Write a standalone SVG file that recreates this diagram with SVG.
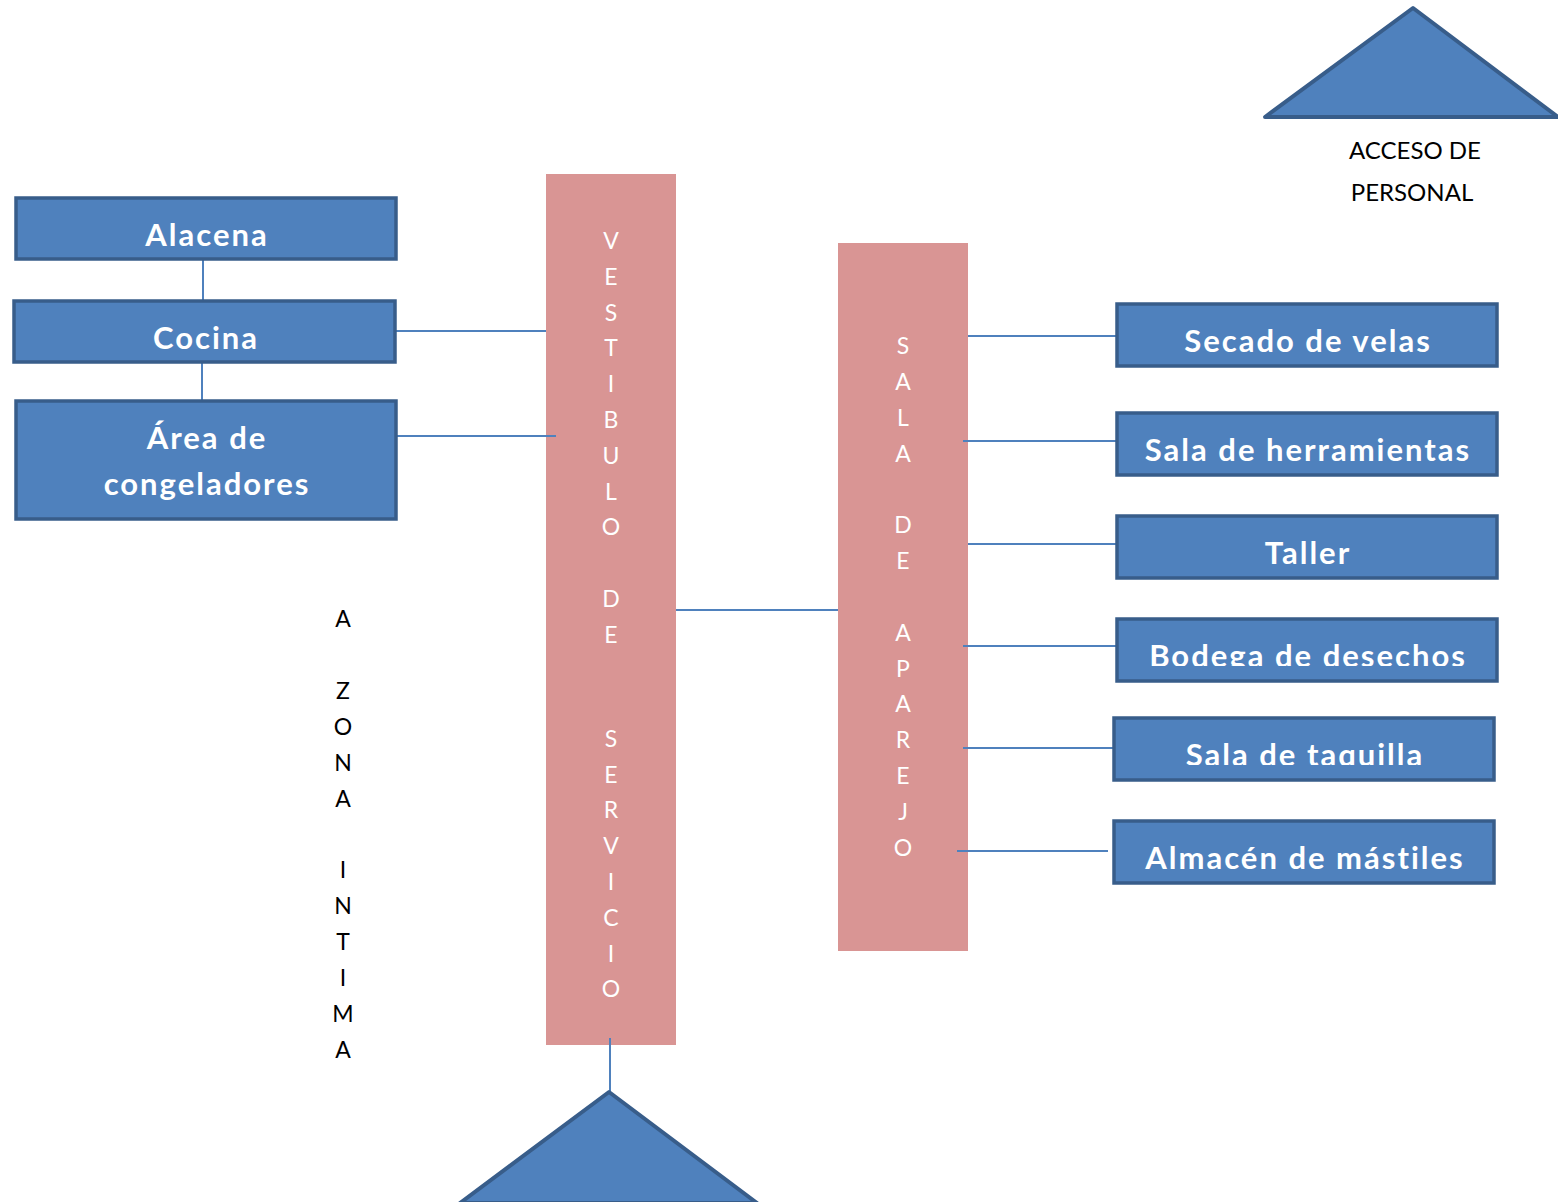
<svg xmlns="http://www.w3.org/2000/svg" width="1558" height="1202" viewBox="0 0 1558 1202">
<style>
.box{fill:#4F81BD;stroke:#385D8A;stroke-width:3.5}
.bt{font-family:Lato,"Open Sans",sans-serif;font-weight:bold;font-size:31px;letter-spacing:2px;fill:#fff;text-anchor:middle}
.pink{fill:#D99594}
.vt{font-family:Lato,"Open Sans",sans-serif;font-size:23px;fill:#fff;text-anchor:middle}
.zt{font-family:Lato,"Open Sans",sans-serif;font-size:23px;fill:#000;text-anchor:middle}
.lt{font-family:Lato,"Open Sans",sans-serif;font-size:24px;fill:#000;text-anchor:middle}
.con line{stroke:#4F81BD;stroke-width:2}
.tri{fill:#4F81BD;stroke:#385D8A;stroke-width:4;stroke-linejoin:round}
</style>
<defs>
<clipPath id="cBod"><rect x="1117" y="619" width="380" height="47"/></clipPath>
<clipPath id="cTaq"><rect x="1114" y="718" width="380" height="47"/></clipPath>
</defs>
<rect width="1558" height="1202" fill="#fff"/>
<g id="vestibulo">
<rect class="pink" x="546" y="174" width="130" height="871"/>
<text class="vt" x="611" y="249"><tspan x="611">V</tspan><tspan x="611" dy="35.8">E</tspan><tspan x="611" dy="35.8">S</tspan><tspan x="611" dy="35.8">T</tspan><tspan x="611" dy="35.8">I</tspan><tspan x="611" dy="35.8">B</tspan><tspan x="611" dy="35.8">U</tspan><tspan x="611" dy="35.8">L</tspan><tspan x="611" dy="35.8">O</tspan><tspan x="611" dy="71.6">D</tspan><tspan x="611" dy="35.8">E</tspan><tspan x="611" dy="104">S</tspan><tspan x="611" dy="35.8">E</tspan><tspan x="611" dy="35.8">R</tspan><tspan x="611" dy="35.8">V</tspan><tspan x="611" dy="35.8">I</tspan><tspan x="611" dy="35.8">C</tspan><tspan x="611" dy="35.8">I</tspan><tspan x="611" dy="35.8">O</tspan></text>
</g>
<g id="sala-aparejo">
<rect class="pink" x="838" y="243" width="130" height="708"/>
<text class="vt" x="903" y="354"><tspan x="903">S</tspan><tspan x="903" dy="35.9">A</tspan><tspan x="903" dy="35.9">L</tspan><tspan x="903" dy="35.9">A</tspan><tspan x="903" dy="71.5">D</tspan><tspan x="903" dy="35.9">E</tspan><tspan x="903" dy="71.9">A</tspan><tspan x="903" dy="35.6">P</tspan><tspan x="903" dy="35.8">A</tspan><tspan x="903" dy="35.8">R</tspan><tspan x="903" dy="35.8">E</tspan><tspan x="903" dy="35.8">J</tspan><tspan x="903" dy="35.8">O</tspan></text>
</g>
<g id="connectors" class="con">
<line x1="203" y1="259" x2="203" y2="301"/>
<line x1="202" y1="362" x2="202" y2="401"/>
<line x1="395" y1="331" x2="546" y2="331"/>
<line x1="396" y1="436" x2="556" y2="436"/>
<line x1="676" y1="610" x2="838" y2="610"/>
<line x1="968" y1="336" x2="1117" y2="336"/>
<line x1="963" y1="441" x2="1117" y2="441"/>
<line x1="968" y1="544" x2="1117" y2="544"/>
<line x1="963" y1="646" x2="1117" y2="646"/>
<line x1="963" y1="748" x2="1115" y2="748"/>
<line x1="957" y1="851" x2="1108" y2="851"/>
<line x1="610" y1="1038" x2="610" y2="1092"/>
</g>
<g id="alacena">
<rect class="box" x="16" y="198" width="380" height="61"/>
<text class="bt" x="207" y="246">Alacena</text>
</g>
<g id="cocina">
<rect class="box" x="14" y="301" width="381" height="61"/>
<text class="bt" x="206" y="349">Cocina</text>
</g>
<g id="congeladores">
<rect class="box" x="16" y="401" width="380" height="118"/>
<text class="bt" x="207" y="449">Área de</text>
<text class="bt" x="207" y="495">congeladores</text>
</g>
<g id="secado">
<rect class="box" x="1117" y="304" width="380" height="62"/>
<text class="bt" x="1308" y="352">Secado de velas</text>
</g>
<g id="herramientas">
<rect class="box" x="1117" y="413" width="380" height="62"/>
<text class="bt" x="1308" y="461">Sala de herramientas</text>
</g>
<g id="taller">
<rect class="box" x="1117" y="516" width="380" height="62"/>
<text class="bt" x="1308" y="564">Taller</text>
</g>
<g id="bodega">
<rect class="box" x="1117" y="619" width="380" height="62"/>
<text class="bt" x="1308" y="667" clip-path="url(#cBod)">Bodega de desechos</text>
</g>
<g id="taquilla">
<rect class="box" x="1114" y="718" width="380" height="62"/>
<text class="bt" x="1305" y="766" clip-path="url(#cTaq)">Sala de taquilla</text>
</g>
<g id="mastiles">
<rect class="box" x="1114" y="821" width="380" height="62"/>
<text class="bt" x="1305" y="869">Almacén de mástiles</text>
</g>
<g id="zona-intima">
<text class="zt" x="343" y="627"><tspan x="343">A</tspan><tspan x="343" dy="71.8">Z</tspan><tspan x="343" dy="35.9">O</tspan><tspan x="343" dy="35.9">N</tspan><tspan x="343" dy="35.9">A</tspan><tspan x="343" dy="71.8">I</tspan><tspan x="343" dy="35.9">N</tspan><tspan x="343" dy="35.9">T</tspan><tspan x="343" dy="35.9">I</tspan><tspan x="343" dy="35.9">M</tspan><tspan x="343" dy="35.9">A</tspan></text>
</g>
<g id="acceso-personal">
<polygon class="tri" points="1413,8 1558,117 1265,117"/>
<text class="lt" x="1415" y="159">ACCESO DE</text>
<text class="lt" x="1412" y="201">PERSONAL</text>
</g>
<g id="acceso-servicio">
<polygon class="tri" points="609,1092 757,1203 460,1203"/>
</g>
</svg>
